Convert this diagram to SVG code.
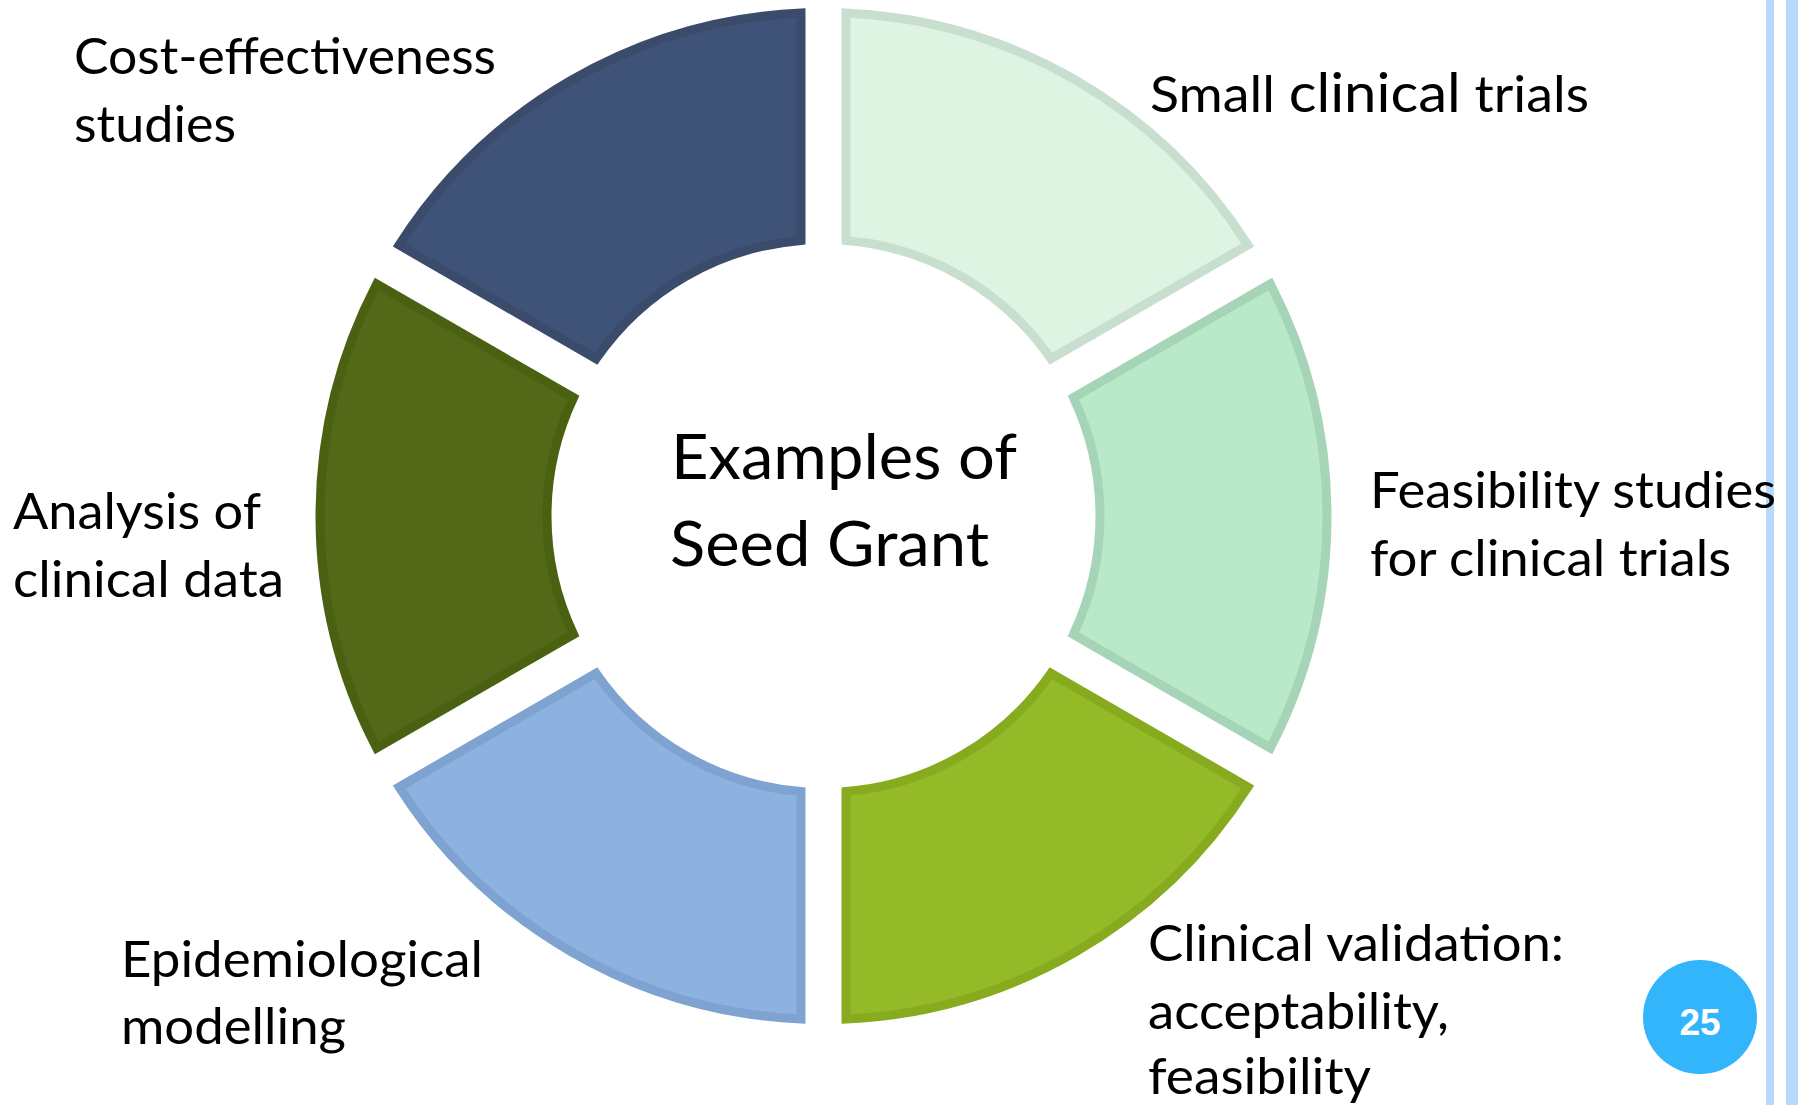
<svg xmlns="http://www.w3.org/2000/svg" width="1798" height="1105" viewBox="0 0 1798 1105">
<style>
.seg{stroke-width:9;stroke-linejoin:miter}
.lbl{font-family:Lato,"Open Sans","Liberation Sans",sans-serif;font-size:50px;fill:#000}
.ctr{font-family:Lato,"Open Sans","Liberation Sans",sans-serif;font-size:62px;fill:#000}
.bar{fill:#b5dafc}
</style>
<defs>
<path id="segShape" d="M801.0,13.0 A503.5,503.5 0 0 0 399.15,245.01 L596.09,358.72 A276.5,276.5 0 0 1 801.0,240.42 Z"/>
</defs>
<rect width="1798" height="1105" fill="#ffffff"/>
<rect class="bar" x="1766" y="0" width="8" height="1105"/>
<rect class="bar" x="1786" y="0" width="12" height="1105"/>

<g id="connectors"></g>

<g id="seg-cost">
<use href="#segShape" class="seg" fill="#3f5277" stroke="#3a4b6c"/>
<text class="lbl" x="74" y="74" textLength="422" lengthAdjust="spacingAndGlyphs">Cost-effectiveness</text>
<text class="lbl" x="74" y="142" textLength="162" lengthAdjust="spacingAndGlyphs">studies</text>
</g>

<g id="seg-small">
<use href="#segShape" class="seg" fill="#dff3e3" stroke="#c8dfcf" transform="rotate(60 823.5 516)"/>
<text class="lbl" x="1150" y="112" textLength="439" lengthAdjust="spacingAndGlyphs">Small <tspan font-size="54">clinical</tspan> trials</text>
</g>

<g id="seg-feasibility">
<use href="#segShape" class="seg" fill="#b9e9c9" stroke="#a6d4b6" transform="rotate(120 823.5 516)"/>
<text class="lbl" x="1370" y="508" textLength="406" lengthAdjust="spacingAndGlyphs">Feasibility studies</text>
<text class="lbl" x="1370" y="576" textLength="361" lengthAdjust="spacingAndGlyphs">for clinical trials</text>
</g>

<g id="seg-validation">
<use href="#segShape" class="seg" fill="#94ba27" stroke="#87ab1f" transform="rotate(180 823.5 516)"/>
<text class="lbl" x="1148" y="961" textLength="416" lengthAdjust="spacingAndGlyphs">Clinical validation:</text>
<text class="lbl" x="1148" y="1029" textLength="301" lengthAdjust="spacingAndGlyphs">acceptability,</text>
<text class="lbl" x="1148" y="1094" textLength="223" lengthAdjust="spacingAndGlyphs">feasibility</text>
</g>

<g id="seg-epi">
<use href="#segShape" class="seg" fill="#8eb2e0" stroke="#7fa3d0" transform="rotate(240 823.5 516)"/>
<text class="lbl" x="121" y="977" textLength="362" lengthAdjust="spacingAndGlyphs">Epidemiological</text>
<text class="lbl" x="121" y="1044" textLength="225" lengthAdjust="spacingAndGlyphs">modelling</text>
</g>

<g id="seg-analysis">
<use href="#segShape" class="seg" fill="#536917" stroke="#4b6112" transform="rotate(300 823.5 516)"/>
<text class="lbl" x="13" y="529" textLength="248" lengthAdjust="spacingAndGlyphs">Analysis of</text>
<text class="lbl" x="13" y="597" textLength="271" lengthAdjust="spacingAndGlyphs">clinical data</text>
</g>

<g id="center">
<text class="ctr" x="671" y="479" textLength="346" lengthAdjust="spacingAndGlyphs">Examples of</text>
<text class="ctr" x="670" y="566" textLength="319" lengthAdjust="spacingAndGlyphs">Seed Grant</text>
</g>

<g id="page-badge">
<circle cx="1700" cy="1017" r="57" fill="#33b5fc"/>
<text x="1700" y="1035" text-anchor="middle" font-family="'Liberation Sans',Arial,sans-serif" font-weight="bold" font-size="37" fill="#ffffff">25</text>
</g>
</svg>
